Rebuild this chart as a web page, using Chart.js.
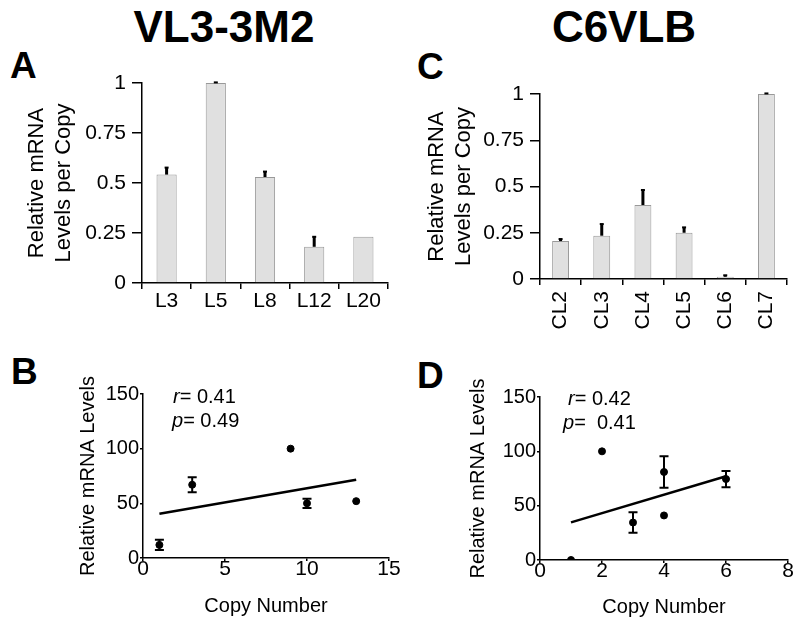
<!DOCTYPE html>
<html>
<head>
<meta charset="utf-8">
<script src="https://cdn.jsdelivr.net/npm/chart.js@4.4.0/dist/chart.umd.min.js"></script>
<style>
  body { margin: 0; background: #fff; }
  #page { position: relative; width: 800px; height: 627px; overflow: hidden;
          font-family: "Liberation Sans", Arial, sans-serif; color: #000; }
  canvas { position: absolute; }
  .title { position: absolute; width: 300px; text-align: center;
           font-weight: bold; font-size: 44px; line-height: 44px; }
  .letter { position: absolute; font-weight: bold; font-size: 37px; line-height: 37px; }
  .stat { position: absolute; font-size: 20px; line-height: 24px; white-space: pre; }
</style>
</head>
<body>
<div id="page">
  <div class="title" style="left:74px; top:5px;">VL3-3M2</div>
  <div class="title" style="left:474px; top:5px;">C6VLB</div>

  <div class="letter" style="left:10px; top:47px;">A</div>
  <div class="letter" style="left:417px; top:48px;">C</div>
  <div class="letter" style="left:11px; top:353px;">B</div>
  <div class="letter" style="left:417px; top:357px;">D</div>

  <canvas id="chartA" width="400" height="270" style="left:0; top:60px;"></canvas>
  <canvas id="chartC" width="400" height="280" style="left:400px; top:60px;"></canvas>
  <canvas id="chartB" width="400" height="267" style="left:0; top:360px;"></canvas>
  <canvas id="chartD" width="400" height="267" style="left:400px; top:360px;"></canvas>

  <div class="stat" style="left:173px; top:384px;"><i>r</i>= 0.41</div>
  <div class="stat" style="left:172px; top:408px;"><i>p</i>= 0.49</div>
  <div class="stat" style="left:568px; top:386px;"><i>r</i>= 0.42</div>
  <div class="stat" style="left:563px; top:410px;"><i>p</i>=  0.41</div>
</div>

<script>
// ---- data ----
const barLabelsA = ["L3", "L5", "L8", "L12", "L20"];
const barValuesA = [0.542, 1.0, 0.53, 0.181, 0.231];
const barErrorsA = [0.035, 0.003, 0.027, 0.05, 0];

const barLabelsC = ["CL2", "CL3", "CL4", "CL5", "CL6", "CL7"];
const barValuesC = [0.205, 0.234, 0.40, 0.25, 0.012, 1.0];
const barErrorsC = [0.011, 0.063, 0.081, 0.029, 0.008, 0.003];

const barTicks = [0, 0.25, 0.5, 0.75, 1];

const copyB = [1, 3, 9, 10, 13];
const mrnaB = [12, 67, 100, 50, 52];
const errB = [4.6, 6.9, 0, 4.3, 0];
const fitCopyB = [1, 13];
const fitMrnaB = [40.5, 71.6];
const copyTicksB = [0, 5, 10, 15];

const copyD = [1, 2, 3, 4, 4, 6];
const mrnaD = [0, 100, 34.5, 81, 41, 74.5];
const errD = [0, 0, 9.5, 14.5, 0, 7.5];
const fitCopyD = [1, 6];
const fitMrnaD = [34.6, 77.1];
const copyTicksD = [0, 2, 4, 6, 8];

const mrnaTicks = [0, 50, 100, 150];

Chart.defaults.font.family = '"Liberation Sans", Arial, sans-serif';
Chart.defaults.font.size = 20;
Chart.defaults.color = "#000";
Chart.defaults.plugins.legend.display = false;
Chart.defaults.plugins.tooltip.enabled = false;

// error bars drawn from the dataset's own elements and y scale
const errorBarPlugin = {
  id: "errorBars",
  afterDatasetsDraw(chart) {
    const ctx = chart.ctx;
    const yScale = chart.scales.y;
    chart.data.datasets.forEach((ds, di) => {
      if (!ds.errors) return;
      const meta = chart.getDatasetMeta(di);
      meta.data.forEach((el, i) => {
        const err = ds.errors[i];
        if (!err) return;
        const raw = ds.data[i];
        const v = typeof raw === "object" ? raw.y : raw;
        const x = el.x;
        const yTop = yScale.getPixelForValue(v + err);
        const yBot = ds.symmetric ? yScale.getPixelForValue(v - err) : yScale.getPixelForValue(v);
        const cap = ds.capWidth / 2;
        ctx.save();
        ctx.strokeStyle = "#000";
        ctx.lineWidth = ds.errLineWidth;
        ctx.beginPath();
        ctx.moveTo(x, yBot);
        ctx.lineTo(x, yTop);
        ctx.stroke();
        ctx.lineWidth = 2;
        ctx.beginPath();
        ctx.moveTo(x - cap, yTop);
        ctx.lineTo(x + cap, yTop);
        if (ds.symmetric) {
          ctx.moveTo(x - cap, yBot);
          ctx.lineTo(x + cap, yBot);
        }
        ctx.stroke();
        ctx.restore();
      });
    });
  }
};

function axisLines(tickLength) {
  return {
    grid: { drawOnChartArea: false, tickLength: tickLength, color: "#000", lineWidth: 1.5 },
    border: { color: "#000", width: 1.5 }
  };
}

/* =========================================
   BAR CHARTS (A, C)
========================================= */
function barChart(id, labels, values, errors, opts) {
  return new Chart(document.getElementById(id), {
    type: "bar",
    data: {
      labels: labels,
      datasets: [{
        data: values,
        errors: errors,
        symmetric: false,
        capWidth: 4,
        errLineWidth: 3,
        backgroundColor: "#e0e0e0",
        borderColor: "#999999",
        borderWidth: 1,
        barPercentage: opts.barPct,
        categoryPercentage: 1
      }]
    },
    options: {
      responsive: false,
      animation: false,
      layout: { padding: opts.padding },
      scales: {
        x: {
          ...axisLines(6),
          ticks: {
            autoSkip: false,
            minRotation: opts.rotate,
            maxRotation: opts.rotate,
            padding: opts.xPad,
            font: { size: 21 }
          },
          afterFit: s => { s.height = opts.xHeight; }
        },
        y: {
          min: 0,
          max: 1,
          ...axisLines(10),
          afterBuildTicks: s => { s.ticks = barTicks.map(v => ({ value: v })); },
          ticks: { callback: v => String(v), padding: 6, font: { size: 21 } },
          title: {
            display: true,
            text: ["Relative mRNA", "Levels per Copy"],
            font: { size: 22, lineHeight: 1.2 },
            padding: { top: 24, bottom: 0 }
          },
          afterFit: s => { s.width = opts.yWidth; }
        }
      }
    },
    plugins: [errorBarPlugin]
  });
}

/* =========================================
   SCATTER CHARTS (B, D)
========================================= */
function scatterChart(id, xs, ys, errs, fitX, fitY, xTicks, opts) {
  return new Chart(document.getElementById(id), {
    type: "scatter",
    data: {
      datasets: [
        {
          data: xs.map((x, i) => ({ x: x, y: ys[i] })),
          errors: errs,
          symmetric: true,
          capWidth: 9,
          errLineWidth: 2,
          pointRadius: 3.5,
          pointBackgroundColor: "#000",
          pointBorderColor: "#000"
        },
        {
          data: fitX.map((x, i) => ({ x: x, y: fitY[i] })),
          showLine: true,
          borderColor: "#000",
          borderWidth: 2.5,
          pointRadius: 0
        }
      ]
    },
    options: {
      responsive: false,
      animation: false,
      layout: { padding: opts.padding },
      scales: {
        x: {
          type: "linear",
          min: xTicks[0],
          max: xTicks[xTicks.length - 1],
          ...axisLines(3),
          afterBuildTicks: s => { s.ticks = xTicks.map(v => ({ value: v })); },
          ticks: { padding: -4, font: { size: 21 } },
          title: {
            display: true,
            text: "Copy Number",
            font: { size: 20 },
            padding: { top: 0, bottom: opts.xTitlePad }
          },
          afterFit: s => { s.height = opts.xHeight; }
        },
        y: {
          min: 0,
          max: 150,
          ...axisLines(3),
          afterBuildTicks: s => { s.ticks = mrnaTicks.map(v => ({ value: v })); },
          ticks: { padding: 1, font: { size: 20 } },
          title: {
            display: true,
            text: "Relative mRNA Levels",
            font: { size: 20 },
            padding: { top: opts.yTitlePad, bottom: 0 }
          },
          afterFit: s => { s.width = opts.yWidth; }
        }
      }
    },
    plugins: [errorBarPlugin]
  });
}

document.addEventListener("DOMContentLoaded", () => {
  barChart("chartA", barLabelsA, barValuesA, barErrorsA, {
    padding: { top: 23, right: 12, left: 0, bottom: 0 },
    yWidth: 142, xHeight: 47, rotate: 0, xPad: 0, barPct: 0.41
  });
  barChart("chartC", barLabelsC, barValuesC, barErrorsC, {
    padding: { top: 34, right: 13, left: 0, bottom: 0 },
    yWidth: 140, xHeight: 61, rotate: 90, xPad: 6, barPct: 0.41
  });
  scatterChart("chartB", copyB, mrnaB, errB, fitCopyB, fitMrnaB, copyTicksB, {
    padding: { top: 34, right: 11, left: 0, bottom: 0 },
    yWidth: 143, xHeight: 69, yTitlePad: 76, xTitlePad: 9
  });
  scatterChart("chartD", copyD, mrnaD, errD, fitCopyD, fitMrnaD, copyTicksD, {
    padding: { top: 37, right: 12, left: 0, bottom: 0 },
    yWidth: 140, xHeight: 67, yTitlePad: 66, xTitlePad: 8
  });
});
</script>
</body>
</html>
